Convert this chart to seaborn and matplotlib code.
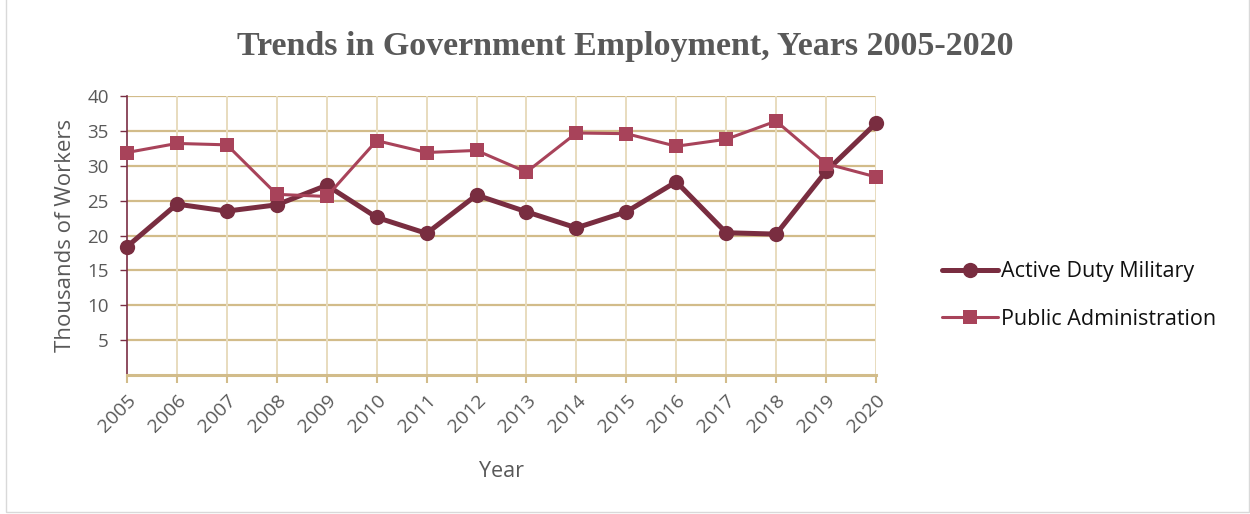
import matplotlib
matplotlib.use("Agg")
import matplotlib.pyplot as plt
import seaborn as sns
import pandas as pd
from matplotlib.patches import Rectangle
from matplotlib.lines import Line2D

years = list(range(2005, 2021))
active_duty = [18.4, 24.5, 23.5, 24.4, 27.2, 22.6, 20.3, 25.8,
               23.4, 21.1, 23.4, 27.7, 20.4, 20.2, 29.2, 36.1]
public_admin = [31.9, 33.2, 33.0, 25.9, 25.6, 33.6, 31.9, 32.2,
                29.1, 34.7, 34.6, 32.8, 33.8, 36.4, 30.3, 28.4]
series_names = ["Active Duty Military", "Public Administration"]
y_ticks = [5, 10, 15, 20, 25, 30, 35, 40]

df = pd.DataFrame({
    "Year": years * 2,
    "Workers": active_duty + public_admin,
    "Series": [series_names[0]] * len(years) + [series_names[1]] * len(years),
})

sns.set_theme(style="white")
plt.rcParams["font.family"] = ["Open Sans", "DejaVu Sans"]

fig = plt.figure(figsize=(12.5, 5.14), dpi=100)
ax = fig.add_axes([0.1016, 0.2704, 0.5992, 0.5428])

palette = {series_names[0]: "#792D40", series_names[1]: "#A8435A"}
sns.lineplot(data=df, x="Year", y="Workers", hue="Series", style="Series",
             markers={series_names[0]: "o", series_names[1]: "s"},
             dashes=False, palette=palette, ax=ax, legend=False,
             clip_on=False, zorder=5)
lines = ax.get_lines()
lines[0].set_linewidth(3.6)
lines[0].set_markersize(11)
lines[0].set_zorder(5)
lines[1].set_linewidth(2.2)
lines[1].set_markersize(10)
lines[1].set_zorder(6)
for ln in lines:
    ln.set_markeredgewidth(0)

ax.set_xlim(2005, 2020)
ax.set_ylim(0, 40)
ax.set_xticks(years)
ax.set_xticklabels([str(y) for y in years], rotation=45, ha="right",
                   rotation_mode="anchor", fontsize=14, color="#595959")
ax.set_yticks(y_ticks)
ax.set_yticklabels([str(t) for t in y_ticks], fontsize=13.5, color="#595959")

# grid
for t in y_ticks:
    ax.axhline(t, color="#D2BC8A", lw=1.6, zorder=1)
for y in years[1:]:
    ax.axvline(y, color="#E8DCBE", lw=1.4, zorder=1)

for s in ["top", "right"]:
    ax.spines[s].set_visible(False)
ax.spines["left"].set_color("#7A2E44")
ax.spines["left"].set_linewidth(1.2)
ax.spines["bottom"].set_color("#D2BC8A")
ax.spines["bottom"].set_linewidth(2.2)

ax.tick_params(axis="x", which="major", direction="out", length=6, width=1.5,
               color="#D2BC8A", bottom=True, pad=6)
ax.tick_params(axis="y", which="major", direction="out", length=5, width=1,
               color="#7A2E44", left=True, pad=8)

ax.set_xlabel("Year", fontsize=15.5, color="#595959", labelpad=18)
ax.set_ylabel("Thousands of Workers", fontsize=16, color="#595959", labelpad=8)

fig.suptitle("Trends in Government Employment, Years 2005-2020",
             x=0.5, y=0.94, fontsize=24.5, fontweight="bold", color="#595959",
             family=["Liberation Serif", "DejaVu Serif"])

handles = [
    Line2D([], [], color=palette[series_names[0]], lw=3.6, marker="o",
           markersize=11, markeredgewidth=0),
    Line2D([], [], color=palette[series_names[1]], lw=2.2, marker="s",
           markersize=10, markeredgewidth=0),
]
leg = fig.legend(handles, series_names, loc="center left",
                 bbox_to_anchor=(0.738, 0.425), frameon=False, fontsize=15.5,
                 handlelength=2.6, labelspacing=1.25, handletextpad=0.15)
for txt in leg.get_texts():
    txt.set_color("#111111")

fig.patches.append(Rectangle((0.005, 0.003), 0.994, 1.2, transform=fig.transFigure,
                             fill=False, edgecolor="#D9D9D9", lw=1))

fig.savefig("out.png", dpi=100, facecolor="white")
